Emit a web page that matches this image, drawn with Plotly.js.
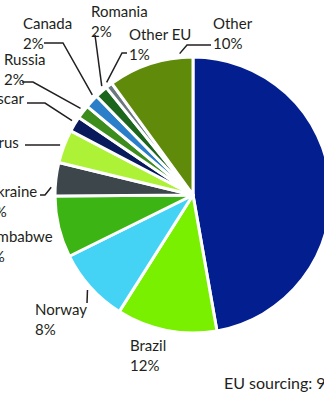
<!DOCTYPE html>
<html>
<head>
<meta charset="utf-8">
<script src="https://cdn.plot.ly/plotly-3.0.1.min.js"></script>
<style>
html,body{margin:0;padding:0;overflow:hidden;width:324px;height:400px;background:#fff;}
#chart{position:absolute;left:-60px;top:0;width:500px;height:400px;}
</style>
</head>
<body>
<div id="chart"></div>
<script>
// Data
var categories = ['China', 'Brazil', 'Norway', 'Zimbabwe', 'Ukraine', 'Belarus', 'Madagascar', 'Russia', 'Canada', 'Romania', 'Other EU', 'Other'];
var shares = [47.2, 11.75, 8.7, 7.2, 3.9, 3.9, 1.8, 1.6, 1.6, 1.5, 0.8, 10.0];
var shareLabels = ['47%', '12%', '8%', '7%', '4%', '4%', '2%', '2%', '2%', '2%', '1%', '10%'];
var colors = ['#031f8f', '#78f000', '#45d3f5', '#3cb514', '#3d464b', '#aef238', '#081a5c', '#3c8c1e', '#2a7fc8', '#1c651c', '#6b7880', '#5f8a0a'];
var footnote = 'EU sourcing: 9%';

// Layout helpers (window pixel -> paper)
var W = 500, H = 400, OFF = 60;
function px(x){ return (x + OFF) / W; }
function py(y){ return 1 - y / H; }
var CX = 193, CY = 195, R = 138;
var FONT = 'Lato, "Open Sans", sans-serif';

// angle of a point within slice i (fraction f), clockwise from 12 o'clock
var total = shares.reduce(function(a,b){return a+b;}, 0);
function sliceAngle(i, f){
  var start = 0;
  for (var k = 0; k < i; k++) start += shares[k];
  return (start + f * shares[i]) / total * 2 * Math.PI;
}
function edgePoint(i, f){
  var a = sliceAngle(i, f), rr = R + 4;
  return [CX + rr * Math.sin(a), CY - rr * Math.cos(a)];
}

// label placement: [index, x, yTop, xanchor, leader path points (window px), slice fraction]
var labelDefs = [
  [11, 211, 12, 'left',  [[211,45],[187,45]], 0.85],
  [10, 127, 23, 'left',  [[127,53],[122,53]], 0.5],
  [9,  89,  0,  'left',  [[95,35]], 0.8],
  [8,  21,  12, 'left',  [[44,43],[63,43]], 0.85],
  [7,  2,   48, 'left',  [[22,82],[33,82]], 0.6],
  [6,  26,  87, 'right', [[27,103],[45,103]], 0.6],
  [5,  21,  131,'right', [[25,145]], 0.5],
  [4,  39,  180,'right', [[40,195],[45,195]], 0.25],
  [3,  55,  225,'right', [], 0.5],
  [2,  33,  298,'left',  [[87,303]], 0.5],
  [1,  128, 334,'left',  [], 0.5]
];

var annotations = [];
var shapes = [];
labelDefs.forEach(function(d){
  var i = d[0];
  annotations.push({
    xref: 'paper', yref: 'paper', x: px(d[1]), y: py(d[2]),
    xanchor: d[3], yanchor: 'top', align: 'left', showarrow: false,
    text: categories[i] + '<br>' + shareLabels[i],
    font: {family: FONT, size: 15, color: '#231f20'}
  });
  if (d[4].length) {
    var pts = d[4].slice();
    pts.push(edgePoint(i, d[5]));
    var path = pts.map(function(p, k){ return (k ? 'L ' : 'M ') + px(p[0]) + ',' + py(p[1]); }).join(' ');
    shapes.push({type: 'path', xref: 'paper', yref: 'paper', path: path,
      line: {color: '#231f20', width: 1.5}});
  }
});
annotations.push({
  xref: 'paper', yref: 'paper', x: px(222), y: py(371), xanchor: 'left', yanchor: 'top',
  showarrow: false, text: footnote,
  font: {family: FONT, size: 16, color: '#231f20'}
});

var trace = {
  type: 'pie',
  labels: categories,
  values: shares,
  sort: false,
  direction: 'clockwise',
  rotation: 0,
  textinfo: 'none',
  hoverinfo: 'label+percent',
  marker: {colors: colors, line: {color: '#ffffff', width: 3}},
  domain: {x: [px(CX - R), px(CX + R)], y: [py(CY + R), py(CY - R)]},
  showlegend: false
};

var layout = {
  width: W, height: H,
  margin: {l: 0, r: 0, t: 0, b: 0},
  paper_bgcolor: '#ffffff',
  showlegend: false,
  annotations: annotations,
  shapes: shapes
};

Plotly.newPlot('chart', [trace], layout, {staticPlot: true, displayModeBar: false});
</script>
</body>
</html>
